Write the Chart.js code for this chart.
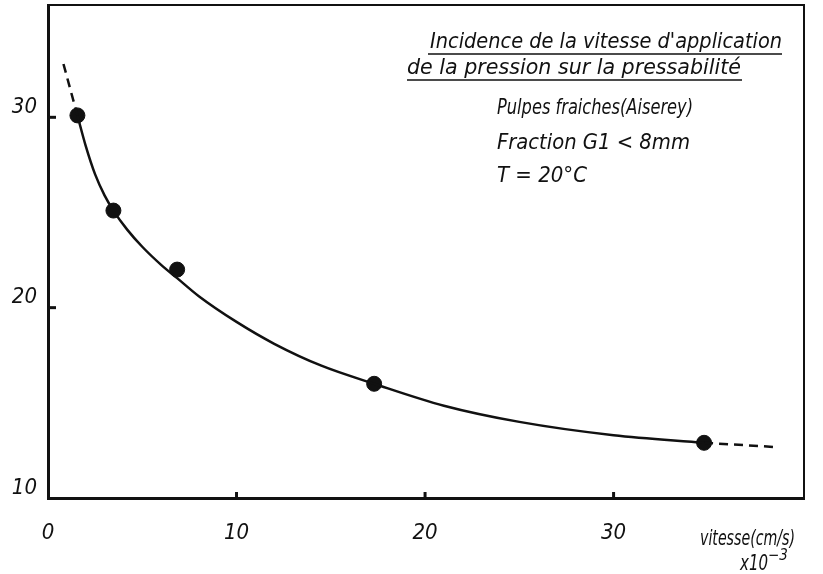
<!DOCTYPE html>
<html>
<head>
<meta charset="utf-8">
<script src="https://cdn.jsdelivr.net/npm/chart.js@4/dist/chart.umd.min.js"></script>
<style>
  html, body { margin: 0; padding: 0; background: #fff; }
  #chart { display: block; }
</style>
</head>
<body>
<canvas id="chart" width="823" height="574"></canvas>
<script>
// measured points (vitesse x10^-3 cm/s, pressabilite)
const vitesse = [1.56, 3.47, 6.85, 17.3, 34.8];
const pressabilite = [30.1, 25.1, 22.0, 16.0, 12.9];

// hand drawn curve
const curveX = [1.56, 2.0, 2.5, 3.0, 3.47, 4.2, 5, 6, 6.85, 8, 10, 12, 14.5, 17.3, 21, 25, 30, 34.8];
const curveY = [30.1, 28.5, 27.0, 25.9, 25.1, 24.1, 23.2, 22.25, 21.55, 20.6, 19.25, 18.1, 16.95, 16.0, 14.85, 14.0, 13.3, 12.9];

// dashed extrapolation at both ends
const dashLeftX = [0.82, 1.56];
const dashLeftY = [32.8, 30.1];
const dashRightX = [34.8, 38.7];
const dashRightY = [12.9, 12.67];

const xTicks = [0, 10, 20, 30];
const yTicks = [10, 20, 30];

const titleLines = ["Incidence de la vitesse d'application", 'de la pression sur la pressabilité'];
const noteLines = ['Pulpes fraiches(Aiserey)', 'Fraction G1 < 8mm', 'T = 20°C'];

const FONT = "'DejaVu Sans Condensed', 'DejaVu Sans', sans-serif";
const INK = '#111';

function toPoints(xs, ys) {
    return xs.map((x, i) => ({ x: x, y: ys[i] }));
}

// squeeze a text to a given width, the lettering is narrow
function fitText(ctx, text, x, y, width) {
    const w = ctx.measureText(text).width;
    ctx.save();
    ctx.translate(x, y);
    ctx.scale(width / w, 1);
    ctx.fillText(text, 0, 0);
    ctx.restore();
}

const figureDecor = {
    id: 'figureDecor',
    afterDraw(chart) {
        const ctx = chart.ctx;
        const a = chart.chartArea;
        const xs = chart.scales.x;
        const ys = chart.scales.y;
        ctx.save();
        ctx.strokeStyle = INK;
        ctx.fillStyle = INK;

        // top and right side of the frame
        ctx.lineWidth = 2;
        ctx.beginPath();
        ctx.moveTo(a.left, a.top);
        ctx.lineTo(a.right, a.top);
        ctx.lineTo(a.right, a.bottom);
        ctx.stroke();

        // small inward ticks
        ctx.lineWidth = 3;
        yTicks.slice(1).forEach(v => {
            const py = ys.getPixelForValue(v);
            ctx.beginPath();
            ctx.moveTo(a.left, py);
            ctx.lineTo(a.left + 8, py);
            ctx.stroke();
        });
        xTicks.slice(1).forEach(v => {
            const px = xs.getPixelForValue(v);
            ctx.beginPath();
            ctx.moveTo(px, a.bottom);
            ctx.lineTo(px, a.bottom - 6);
            ctx.stroke();
        });

        // title block
        ctx.font = 'italic 22px ' + FONT;
        ctx.textBaseline = 'alphabetic';
        fitText(ctx, titleLines[0], 430, 48, 352);
        fitText(ctx, titleLines[1], 407, 74, 334);
        ctx.lineWidth = 1.5;
        ctx.beginPath();
        ctx.moveTo(428, 54); ctx.lineTo(782, 54);
        ctx.moveTo(407, 80); ctx.lineTo(742, 80);
        ctx.stroke();

        fitText(ctx, noteLines[0], 497, 114, 196);
        fitText(ctx, noteLines[1], 497, 149, 193);
        fitText(ctx, noteLines[2], 497, 182, 90);

        // axis unit
        fitText(ctx, 'vitesse(cm/s)', 700, 545, 95);
        fitText(ctx, 'x10', 740, 570, 28);
        ctx.font = 'italic 15px ' + FONT;
        ctx.fillText('\u22123', 768, 560);
        ctx.restore();
    }
};

new Chart(document.getElementById('chart'), {
    type: 'scatter',
    data: {
        datasets: [
            {
                label: 'courbe',
                data: toPoints(curveX, curveY),
                showLine: true,
                borderColor: INK,
                borderWidth: 2.5,
                pointRadius: 0,
                cubicInterpolationMode: 'monotone',
            },
            {
                label: 'extrapolation',
                data: toPoints(dashLeftX, dashLeftY),
                showLine: true,
                borderColor: INK,
                borderWidth: 2.5,
                borderDash: [9, 6],
                pointRadius: 0,
            },
            {
                label: 'extrapolation',
                data: toPoints(dashRightX, dashRightY),
                showLine: true,
                borderColor: INK,
                borderWidth: 2.5,
                borderDash: [9, 6],
                pointRadius: 0,
            },
            {
                label: 'mesures',
                data: toPoints(vitesse, pressabilite),
                showLine: false,
                pointRadius: 7.5,
                backgroundColor: INK,
                borderColor: INK,
            },
        ]
    },
    options: {
        responsive: false,
        animation: false,
        layout: {
            autoPadding: false,
            padding: { top: 5, right: 19 }
        },
        plugins: {
            legend: { display: false },
            tooltip: { enabled: false },
        },
        scales: {
            x: {
                type: 'linear',
                min: 0,
                max: 40.1,
                afterBuildTicks: s => { s.ticks = xTicks.map(v => ({ value: v })); },
                afterFit: s => { s.height = 76; s.paddingLeft = 0; s.paddingRight = 0; },
                grid: { display: false, drawTicks: false },
                border: { display: true, color: INK, width: 3 },
                ticks: {
                    color: INK,
                    padding: 22,
                    maxRotation: 0,
                    font: { family: FONT, size: 22, style: 'italic' },
                },
            },
            y: {
                type: 'linear',
                min: 10,
                max: 35.9,
                afterBuildTicks: s => { s.ticks = yTicks.map(v => ({ value: v })); },
                afterFit: s => { s.width = 48; s.paddingTop = 0; s.paddingBottom = 0; },
                grid: { display: false, drawTicks: false },
                border: { display: true, color: INK, width: 3 },
                ticks: {
                    color: INK,
                    padding: 11,
                    labelOffset: -10,
                    font: { family: FONT, size: 22, style: 'italic' },
                },
            },
        },
    },
    plugins: [figureDecor],
});
</script>
</body>
</html>
